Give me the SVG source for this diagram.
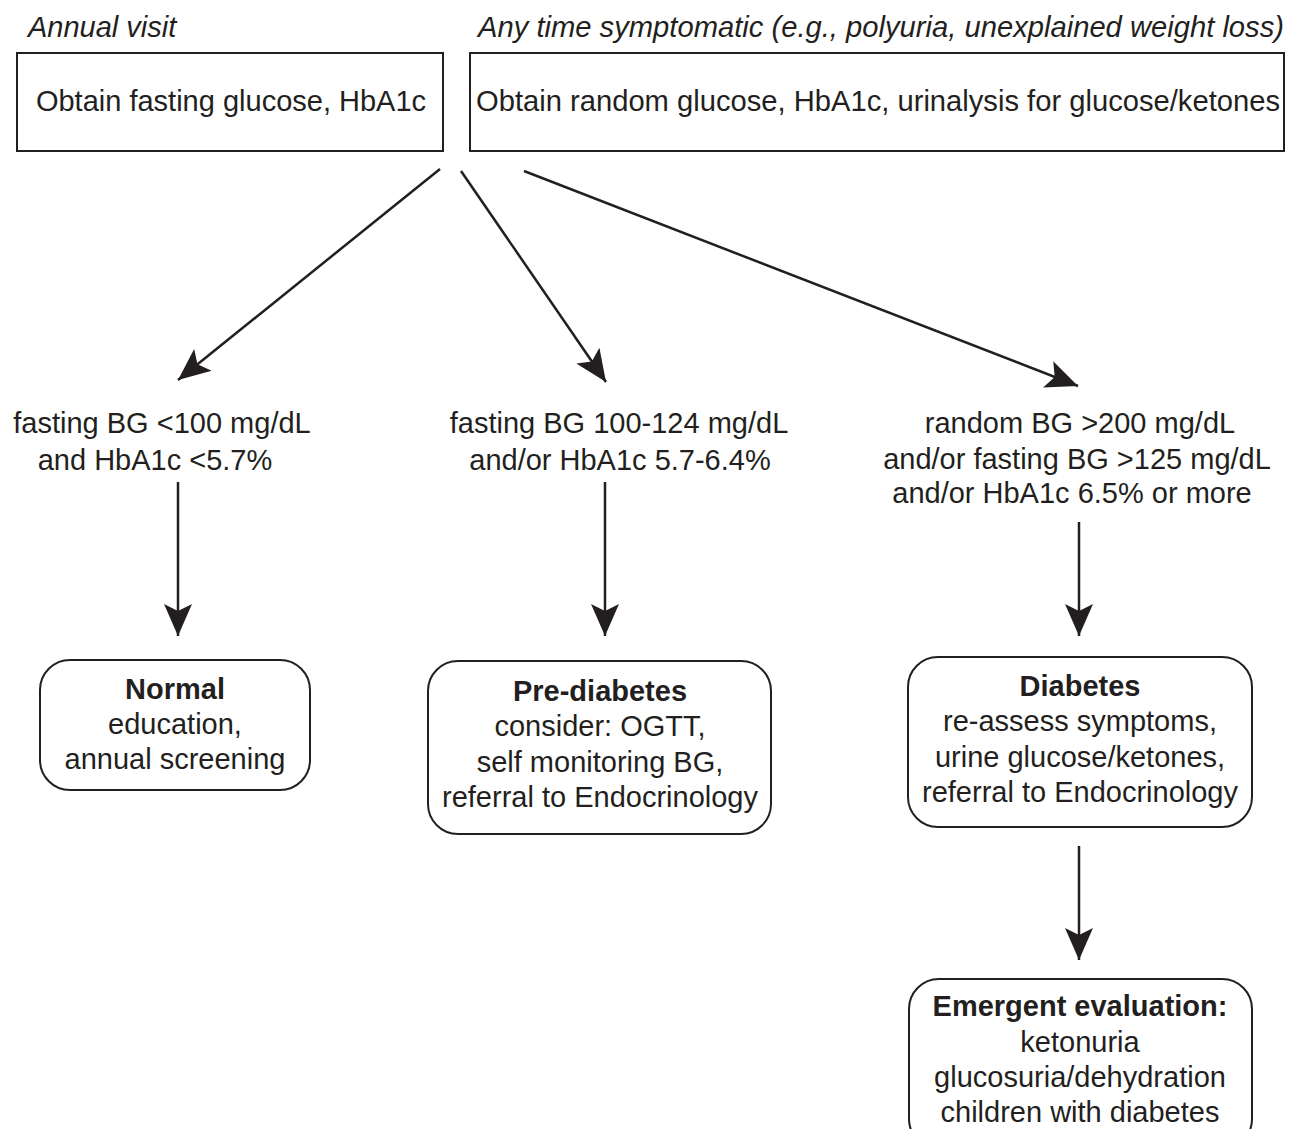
<svg xmlns="http://www.w3.org/2000/svg" width="1299" height="1129" viewBox="0 0 1299 1129">
<defs>
<style>
text{font-family:"Liberation Sans",Arial,sans-serif;font-size:29px;fill:#231f20}
.it{font-style:italic}
.b{font-weight:bold}
.c{text-anchor:middle}
.box{fill:#fff;stroke:#231f20;stroke-width:2}
.con{stroke:#231f20;stroke-width:2.5;fill:none;marker-end:url(#ah)}
</style>
<marker id="ah" viewBox="0 0 32 30" refX="32" refY="15" markerWidth="32" markerHeight="30" markerUnits="userSpaceOnUse" orient="auto">
<path d="M0,1 L32,15 L0,29 L7,15 Z" fill="#231f20"/>
</marker>
</defs>
<rect width="1299" height="1129" fill="#fff"/>
<g id="annual">
<text class="it" x="28" y="37">Annual visit</text>
<rect class="box" x="17" y="53" width="426" height="98"/>
<text class="c" x="231" y="111">Obtain fasting glucose, HbA1c</text>
</g>
<g id="symptomatic">
<text class="it" x="478" y="37" textLength="806" lengthAdjust="spacingAndGlyphs">Any time symptomatic (e.g., polyuria, unexplained weight loss)</text>
<rect class="box" x="470" y="53" width="814" height="98"/>
<text x="476" y="111" textLength="804" lengthAdjust="spacingAndGlyphs">Obtain random glucose, HbA1c, urinalysis for glucose/ketones</text>
</g>
<g id="crit-normal">
<text class="c" x="162" y="433">fasting BG &lt;100 mg/dL</text>
<text class="c" x="155" y="470">and HbA1c &lt;5.7%</text>
</g>
<g id="crit-pre">
<text class="c" x="619" y="433">fasting BG 100-124 mg/dL</text>
<text class="c" x="620" y="470">and/or HbA1c 5.7-6.4%</text>
</g>
<g id="crit-diab">
<text class="c" x="1080" y="433">random BG &gt;200 mg/dL</text>
<text class="c" x="1077" y="469">and/or fasting BG &gt;125 mg/dL</text>
<text class="c" x="1072" y="503">and/or HbA1c 6.5% or more</text>
</g>
<g id="normal">
<rect class="box" x="40" y="660" width="270" height="130" rx="30"/>
<text class="c b" x="175" y="699">Normal</text>
<text class="c" x="175" y="734">education,</text>
<text class="c" x="175" y="769">annual screening</text>
</g>
<g id="prediabetes">
<rect class="box" x="428" y="661" width="343" height="173" rx="30"/>
<text class="c b" x="600" y="701">Pre-diabetes</text>
<text class="c" x="600" y="736">consider: OGTT,</text>
<text class="c" x="600" y="772">self monitoring BG,</text>
<text class="c" x="600" y="807">referral to Endocrinology</text>
</g>
<g id="diabetes">
<rect class="box" x="908" y="657" width="344" height="170" rx="30"/>
<text class="c b" x="1080" y="696">Diabetes</text>
<text class="c" x="1080" y="731">re-assess symptoms,</text>
<text class="c" x="1080" y="767">urine glucose/ketones,</text>
<text class="c" x="1080" y="802">referral to Endocrinology</text>
</g>
<g id="emergent">
<rect class="box" x="909" y="979" width="343" height="170" rx="30"/>
<text class="c b" x="1080" y="1016">Emergent evaluation:</text>
<text class="c" x="1080" y="1052">ketonuria</text>
<text class="c" x="1080" y="1087">glucosuria/dehydration</text>
<text class="c" x="1080" y="1122">children with diabetes</text>
</g>
<g id="connectors">
<line class="con" x1="440" y1="169" x2="178" y2="380"/>
<line class="con" x1="461" y1="171" x2="606" y2="382"/>
<line class="con" x1="524" y1="171" x2="1078" y2="386"/>
<line class="con" x1="178" y1="482" x2="178" y2="636"/>
<line class="con" x1="605" y1="482" x2="605" y2="636"/>
<line class="con" x1="1079" y1="522" x2="1079" y2="636"/>
<line class="con" x1="1079" y1="846" x2="1079" y2="960"/>
</g>
</svg>
